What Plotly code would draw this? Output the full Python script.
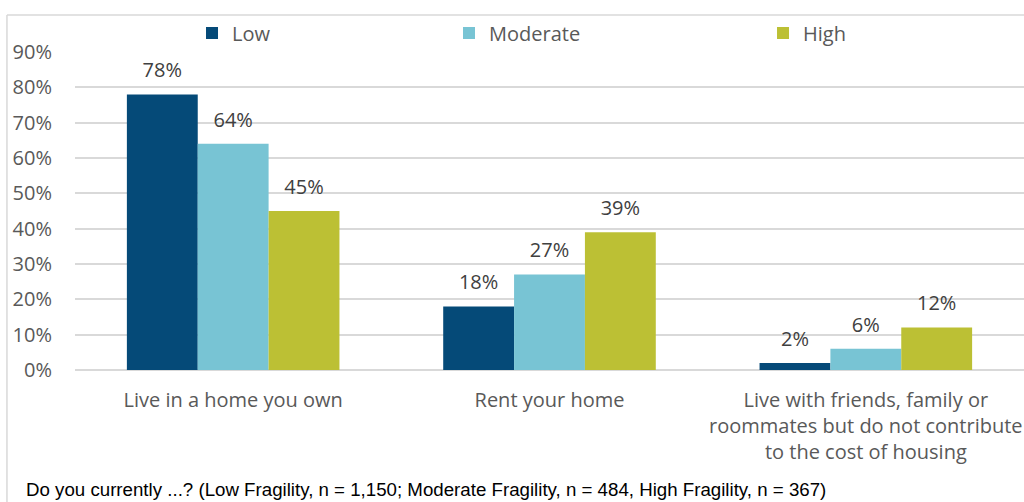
import plotly.graph_objects as go

# Survey responses by fragility level
categories = [
    "Live in a home you own",
    "Rent your home",
    "Live with friends, family or<br>roommates but do not contribute<br>to the cost of housing",
]
low = [0.78, 0.18, 0.02]
moderate = [0.64, 0.27, 0.06]
high = [0.45, 0.39, 0.12]

series = [
    ("Low", low, "#054A78", "legend", 0.1233),
    ("Moderate", moderate, "#78C4D4", "legend2", 0.3941),
    ("High", high, "#BCC034", "legend3", 0.725),
]

x_pos = list(range(len(categories)))
tick_font = dict(family="Open Sans", size=20, color="#595959")

fig = go.Figure()

for name, vals, color, leg, _ in series:
    fig.add_trace(go.Bar(
        x=x_pos, y=vals, name=name, marker=dict(color=color, line=dict(width=0)),
        offsetgroup=name, legend=leg, hoverinfo="skip",
    ))

# value labels placed above each bar
for name, vals, color, leg, _ in series:
    fig.add_trace(go.Scatter(
        x=x_pos, y=vals, mode="markers+text", offsetgroup=name,
        text=[f"{v:.0%}" for v in vals], textposition="top center",
        textfont=dict(family="Open Sans", size=20, color="#404040"),
        marker=dict(size=18, color="rgba(0,0,0,0)"),
        showlegend=False, hoverinfo="skip", cliponaxis=False,
    ))

legend_common = dict(
    orientation="h", yanchor="middle", y=1.0597, xanchor="left",
    font=dict(family="Open Sans", size=20, color="#595959"),
    bgcolor="rgba(0,0,0,0)", borderwidth=0,
)
layout_legends = {}
for name, vals, color, leg, lx in series:
    layout_legends[leg] = dict(legend_common, x=lx)

fig.update_layout(
    width=1024, height=502,
    margin=dict(l=75, r=0, t=52, b=132),
    paper_bgcolor="white", plot_bgcolor="white",
    barmode="group", bargap=0.328, bargroupgap=0,
    scattermode="group", scattergap=0.328,
    **layout_legends,
)

fig.update_xaxes(
    tickvals=x_pos, ticktext=categories, range=[-0.5, 2.5],
    tickfont=tick_font, ticks="outside", ticklen=12,
    tickcolor="rgba(0,0,0,0)", showgrid=False, zeroline=False, showline=False,
)
fig.update_yaxes(
    range=[0, 0.9], dtick=0.1, tickformat=".0%", tickfont=tick_font,
    showgrid=True, gridcolor="#D9D9D9", gridwidth=1.5,
    zeroline=True, zerolinecolor="#D9D9D9", zerolinewidth=1.5,
    ticks="outside", ticklen=18, tickcolor="rgba(0,0,0,0)", showline=False,
)

# chart frame (top and left edges)
frame = dict(color="#D9D9D9", width=1.5)
fig.add_shape(type="line", xref="paper", yref="paper",
              x0=-0.0717, x1=1.05, y0=1.1164, y1=1.1164, line=frame)
fig.add_shape(type="line", xref="paper", yref="paper",
              x0=-0.0717, x1=-0.0717, y0=1.1164, y1=-0.5, line=frame)

fig.add_annotation(
    text="Do you currently ...? (Low Fragility, n = 1,150; Moderate Fragility, n = 484, High Fragility, n = 367)",
    xref="paper", yref="paper", x=-0.0538, y=-0.377, xanchor="left", yanchor="middle",
    showarrow=False, font=dict(family="Liberation Sans", size=18.7, color="#000000"),
)

fig.write_html("out.html")
